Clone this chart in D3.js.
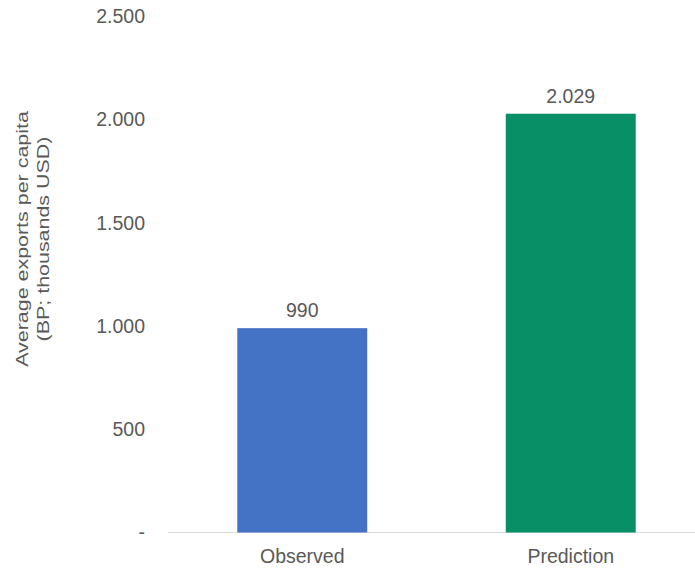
<!DOCTYPE html>
<html>
<head>
<meta charset="utf-8">
<script src="https://cdn.jsdelivr.net/npm/d3@7"></script>
<style>
  html, body { margin: 0; padding: 0; background: #fff; }
  svg { display: block; }
  text { font-family: "Liberation Sans", Arial, sans-serif; fill: #595959; }
</style>
</head>
<body>
<svg id="chart" width="695" height="569"></svg>
<script>
// Chart data
const categories = ["Observed", "Prediction"];
const values = [990, 2029];
const barColors = ["#4472C4", "#088F66"];
const yTicks = [0, 500, 1000, 1500, 2000, 2500];
const yTickLabels = ["-", "500", "1.000", "1.500", "2.000", "2.500"];
const valueLabels = ["990", "2.029"];
const yTitleLines = ["Average exports per capita", "(BP; thousands USD)"];

const svg = d3.select("#chart");
const fontSize = 19.5;

const x = d3.scaleBand()
  .domain(categories)
  .range([168, 705])
  .paddingInner(0.516)
  .paddingOuter(0.258);

const y = d3.scaleLinear()
  .domain([0, 2500])
  .range([532.5, 16.5]);

// Baseline
svg.append("line")
  .attr("x1", 168).attr("x2", 695)
  .attr("y1", y(0)).attr("y2", y(0))
  .attr("stroke", "#d9d9d9").attr("stroke-width", 1.2);

// Y axis tick labels
const yAxis = d3.axisLeft(y)
  .tickValues(yTicks)
  .tickSize(0)
  .tickPadding(0)
  .tickFormat((d, i) => yTickLabels[i]);

const yG = svg.append("g")
  .attr("transform", "translate(145,0)")
  .call(yAxis);
yG.select(".domain").remove();
yG.selectAll("text")
  .attr("font-size", fontSize)
  .attr("font-family", "Liberation Sans, Arial, sans-serif")
  .attr("fill", "#595959");

// Bars
svg.selectAll("rect.bar")
  .data(values)
  .join("rect")
  .attr("class", "bar")
  .attr("x", (d, i) => x(categories[i]))
  .attr("width", x.bandwidth())
  .attr("y", d => y(d))
  .attr("height", d => y(0) - y(d))
  .attr("fill", (d, i) => barColors[i]);

// Value labels
svg.selectAll("text.val")
  .data(values)
  .join("text")
  .attr("class", "val")
  .attr("x", (d, i) => x(categories[i]) + x.bandwidth() / 2)
  .attr("y", d => y(d) - 11)
  .attr("text-anchor", "middle")
  .attr("font-size", fontSize)
  .text((d, i) => valueLabels[i]);

// X axis category labels
const xAxis = d3.axisBottom(x).tickSize(0).tickPadding(0);
const xG = svg.append("g")
  .attr("transform", `translate(0,${y(0)})`)
  .call(xAxis);
xG.select(".domain").remove();
xG.selectAll("text")
  .attr("font-size", fontSize)
  .attr("font-family", "Liberation Sans, Arial, sans-serif")
  .attr("fill", "#595959")
  .attr("dy", null)
  .attr("y", 30.5);

// Y axis title (two lines, rotated, stretched along the reading direction)
const title = svg.append("text")
  .attr("transform", "translate(28,239) rotate(-90) scale(1.34,1)")
  .attr("text-anchor", "middle")
  .attr("font-size", 16);
title.selectAll("tspan")
  .data(yTitleLines)
  .join("tspan")
  .attr("x", 0)
  .attr("dy", (d, i) => i === 0 ? 0 : 21.3)
  .text(d => d);
</script>
</body>
</html>
